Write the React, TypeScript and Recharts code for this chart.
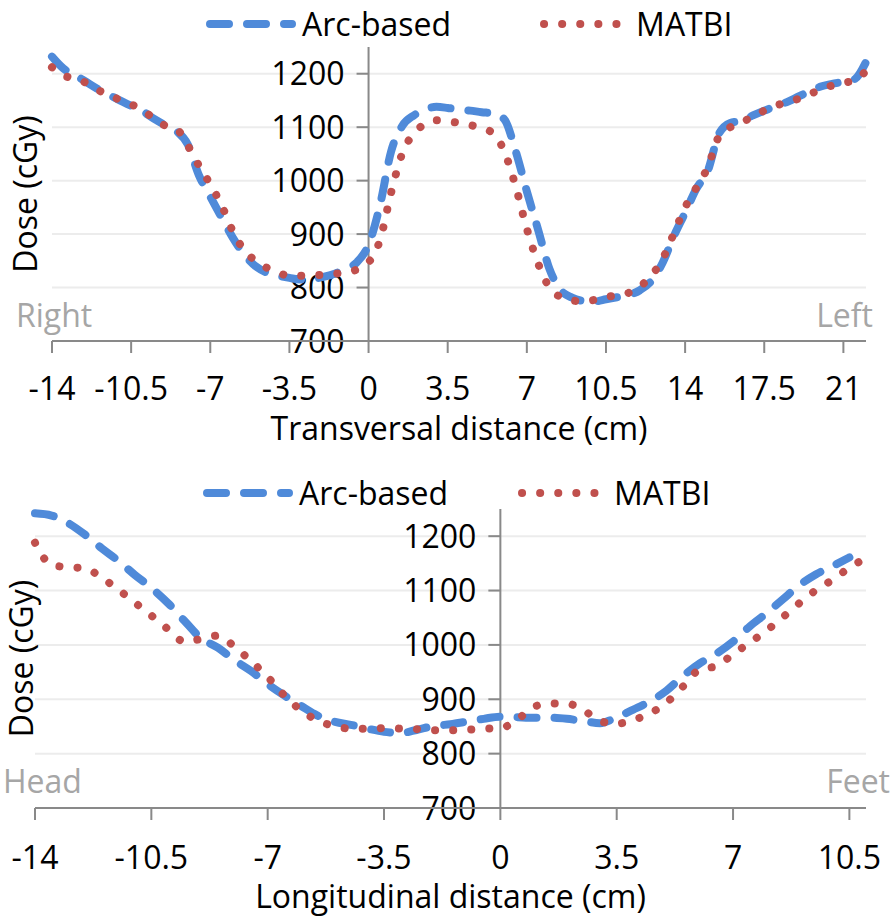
import React from "react";
import { LineChart, Line, XAxis, YAxis, ReferenceLine, Legend } from "recharts";

// Transversal profile (top panel)
const TOP_X = [
  -14, -13.5, -13, -12.5, -12, -11.5, -11, -10.5, -10, -9.5, -9, -8.5, -8, -7.5, -7, -6.5, -6, -5.5, -5, -4.5,
  -4, -3.5, -3, -2.5, -2, -1.5, -1, -0.5, 0, 0.5, 1, 1.5, 2, 2.5, 3, 3.5, 4, 4.5, 5, 5.5,
  6, 6.5, 7, 7.5, 8, 8.5, 9, 9.5, 10, 10.5, 11, 11.5, 12, 12.5, 13, 13.5, 14, 14.5, 15, 15.5,
  16, 16.5, 17, 17.5, 18, 18.5, 19, 19.5, 20, 20.5, 21, 21.5, 22,
];
const TOP_ARC = [
  1232, 1210, 1198, 1185, 1172, 1161, 1150, 1140, 1130, 1116, 1104, 1093, 1068, 1010, 970, 931, 893, 862, 840, 828,
  822, 818, 815, 816, 820, 826, 835, 848, 880, 953, 1055, 1103, 1122, 1133, 1138, 1136, 1133, 1131, 1128, 1126,
  1115, 1056, 980, 908, 835, 795, 781, 775, 774, 778, 782, 786, 795, 812, 846, 896, 940, 985, 1018, 1088,
  1108, 1112, 1122, 1131, 1139, 1147, 1157, 1167, 1176, 1181, 1185, 1190, 1222,
];
const TOP_MATBI = [
  1212, 1197, 1191, 1183, 1170, 1161, 1151, 1143, 1131, 1117, 1103, 1097, 1066, 1028, 993, 954, 905, 870, 850, 837,
  828, 822, 822, 823, 824, 826, 828, 834, 847, 888, 978, 1052, 1088, 1106, 1113, 1111, 1108, 1104, 1098, 1089,
  1055, 990, 910, 845, 800, 782, 776, 774, 777, 782, 786, 790, 802, 822, 853, 901, 950, 987, 1025, 1083,
  1100, 1109, 1120, 1131, 1140, 1147, 1153, 1162, 1170, 1178, 1183, 1188, 1205,
];
const TOP_X_TICKS = [-14, -10.5, -7, -3.5, 0, 3.5, 7, 10.5, 14, 17.5, 21];

// Longitudinal profile (bottom panel)
const BOTTOM_X = [
  -14, -13.5, -13, -12.5, -12, -11.5, -11, -10.5, -10, -9.5, -9, -8.5, -8, -7.5, -7, -6.5, -6, -5.5, -5, -4.5,
  -4, -3.5, -3, -2.5, -2, -1.5, -1, -0.5, 0, 0.5, 1, 1.5, 2, 2.5, 3, 3.5, 4, 4.5, 5, 5.5,
  6, 6.5, 7, 7.5, 8, 8.5, 9, 9.5, 10, 10.5, 11,
];
const BOTTOM_ARC = [
  1242, 1238, 1224, 1203, 1178, 1155, 1129, 1105, 1077, 1044, 1012, 995, 972, 952, 928, 907, 888, 870, 859, 853,
  846, 840, 838, 844, 851, 854, 859, 864, 868, 867, 866, 866, 864, 860, 856, 867, 881, 896, 916, 943,
  966, 984, 1006, 1034, 1058, 1084, 1110, 1130, 1145, 1161, null,
];
const BOTTOM_MATBI = [
  1188, 1147, 1143, 1141, 1124, 1102, 1078, 1054, 1029, 1006, 1011, 1017, 997, 970, 941, 907, 880, 861, 851, 846,
  846, 847, 846, 845, 843, 843, 844, 846, 847, 862, 886, 892, 892, 880, 860, 855, 862, 874, 894, 924,
  955, 961, 983, 1004, 1026, 1051, 1077, 1101, 1120, 1142, 1160,
];
const BOTTOM_X_TICKS = [-14, -10.5, -7, -3.5, 0, 3.5, 7, 10.5];

const Y_TICKS = [700, 800, 900, 1000, 1100, 1200];
const Y_DOMAIN: [number, number] = [700, 1250];

const FONT = '"Open Sans", Lato, sans-serif';
const AXIS = "#898989";
const GRID = "#ececec";
const BLUE = "#4f8ad9";
const RED = "#c0504d";
const ARC_DASH = "19 18";
const DOT_DASH = "0.1 18";
const LW = 8;
const FS = 32;

const topData = TOP_X.map((x, i) => ({ x, arc: TOP_ARC[i], matbi: TOP_MATBI[i] }));
const bottomData = BOTTOM_X.map((x, i) => ({ x, arc: BOTTOM_ARC[i], matbi: BOTTOM_MATBI[i] }));

// value-axis sits at x = 0, inside the plot, so its ticks are drawn off the grid lines
const makeYTick = (axisX: number, value: number) => (props: any) => {
  const y = props.viewBox?.y ?? 0;
  return (
    <g>
      <line x1={axisX - 12} x2={axisX} y1={y} y2={y} stroke={AXIS} strokeWidth={2} />
      <text x={axisX - 24} y={y} dy="0.36em" textAnchor="end" fontSize={FS} fontFamily={FONT} fill="#000">
        {value}
      </text>
    </g>
  );
};

const makeYLabel = (baseX: number) => (props: any) => {
  const vb = props.viewBox || {};
  const cy = (vb.y ?? 0) + (vb.height ?? 0) / 2;
  return (
    <text x={baseX} y={cy} transform={`rotate(-90 ${baseX} ${cy})`} textAnchor="middle" fontSize={FS} fontFamily={FONT} fill="#000">
      Dose (cGy)
    </text>
  );
};

const makeXLabel = (title: string, left: string, right: string, titleUp: number, sideUp: number, leftDx: number, rightDx: number) => (props: any) => {
  const vb = props.viewBox || {};
  const { x = 0, y = 0, width = 0, height = 0 } = vb;
  return (
    <g fontFamily={FONT} fontSize={FS}>
      <text x={x + width / 2} y={y + height - titleUp} textAnchor="middle" fill="#000">{title}</text>
      <text x={x + leftDx} y={y - sideUp} textAnchor="start" fill="#a6a6a6">{left}</text>
      <text x={x + width + rightDx} y={y - sideUp} textAnchor="end" fill="#a6a6a6">{right}</text>
    </g>
  );
};

const makeLegend = (padLeft: number, gap: number) => () => (
  <div style={{ display: "flex", alignItems: "center", paddingLeft: padLeft, fontFamily: FONT, fontSize: FS, color: "#000", lineHeight: "40px" }}>
    <svg width={90} height={20}>
      <line x1={4} y1={10} x2={86} y2={10} stroke={BLUE} strokeWidth={LW} strokeDasharray={ARC_DASH} strokeLinecap="round" />
    </svg>
    <span style={{ marginLeft: 6 }}>Arc-based</span>
    <svg width={84} height={20} style={{ marginLeft: gap }}>
      <line x1={4} y1={10} x2={80} y2={10} stroke={RED} strokeWidth={LW} strokeDasharray={DOT_DASH} strokeLinecap="round" />
    </svg>
    <span style={{ marginLeft: 12 }}>MATBI</span>
  </div>
);

export default function App() {
  const topAxisX = 52 + ((0 - -14) / 36) * 814;
  const bottomAxisX = 35 + ((0 - -14) / 25) * 831;

  return (
    <div style={{ position: "absolute", left: 0, top: 0, width: 893, height: 917, background: "#fff" }}>
      <div style={{ position: "absolute", left: 0, top: 0 }}>
        <LineChart width={893} height={460} data={topData} margin={{ top: 47, right: 27, left: 52, bottom: 0 }}>
          <XAxis
            dataKey="x"
            type="number"
            domain={[-14, 22]}
            ticks={TOP_X_TICKS}
            interval={0}
            height={119}
            tickSize={12}
            tickMargin={24}
            axisLine={{ stroke: AXIS, strokeWidth: 2 }}
            tickLine={{ stroke: AXIS, strokeWidth: 2 }}
            tick={{ fill: "#000", fontSize: FS, fontFamily: FONT }}
            label={{ content: makeXLabel("Transversal distance (cm)", "Right", "Left", 20, 14, -36, 7) }}
          />
          <YAxis type="number" domain={Y_DOMAIN} ticks={Y_TICKS} hide />
          {Y_TICKS.map((v) => (
            <ReferenceLine key={v} y={v} stroke={v === 700 ? "none" : GRID} strokeWidth={2} label={{ content: makeYTick(topAxisX, v) }} />
          ))}
          <ReferenceLine x={0} stroke={AXIS} strokeWidth={2} label={{ content: makeYLabel(37) }} />
          <Legend verticalAlign="middle" align="center" layout="horizontal" wrapperStyle={{ top: 4, left: 0, width: 893 }} content={makeLegend(206, 89)} />
          <Line type="monotone" dataKey="arc" stroke={BLUE} strokeWidth={LW} strokeDasharray={ARC_DASH} strokeLinecap="round" dot={false} activeDot={false} isAnimationActive={false} />
          <Line type="monotone" dataKey="matbi" stroke={RED} strokeWidth={LW} strokeDasharray={DOT_DASH} strokeLinecap="round" dot={false} activeDot={false} isAnimationActive={false} />
        </LineChart>
      </div>
      <div style={{ position: "absolute", left: 0, top: 460 }}>
        <LineChart width={893} height={457} data={bottomData} margin={{ top: 49, right: 27, left: 35, bottom: 0 }}>
          <XAxis
            dataKey="x"
            type="number"
            domain={[-14, 11]}
            ticks={BOTTOM_X_TICKS}
            interval={0}
            height={109}
            tickSize={12}
            tickMargin={26}
            axisLine={{ stroke: AXIS, strokeWidth: 2 }}
            tickLine={{ stroke: AXIS, strokeWidth: 2 }}
            tick={{ fill: "#000", fontSize: FS, fontFamily: FONT }}
            label={{ content: makeXLabel("Longitudinal distance (cm)", "Head", "Feet", 9, 15, -32, 24) }}
          />
          <YAxis type="number" domain={Y_DOMAIN} ticks={Y_TICKS} hide />
          {Y_TICKS.map((v) => (
            <ReferenceLine key={v} y={v} stroke={v === 700 ? "none" : GRID} strokeWidth={2} label={{ content: makeYTick(bottomAxisX, v) }} />
          ))}
          <ReferenceLine x={0} stroke={AXIS} strokeWidth={2} label={{ content: makeYLabel(33) }} />
          <Legend verticalAlign="middle" align="center" layout="horizontal" wrapperStyle={{ top: 13, left: 0, width: 893 }} content={makeLegend(203, 70)} />
          <Line type="monotone" dataKey="arc" stroke={BLUE} strokeWidth={LW} strokeDasharray={ARC_DASH} strokeLinecap="round" dot={false} activeDot={false} isAnimationActive={false} />
          <Line type="monotone" dataKey="matbi" stroke={RED} strokeWidth={LW} strokeDasharray={DOT_DASH} strokeLinecap="round" dot={false} activeDot={false} isAnimationActive={false} />
        </LineChart>
      </div>
    </div>
  );
}
